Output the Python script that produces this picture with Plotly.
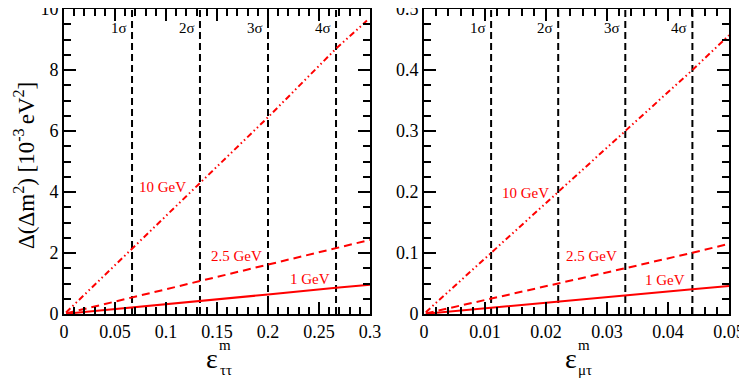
import plotly.graph_objects as go

# the page body keeps an 8px margin, so the figure is drawn 8px smaller
# and every position below is given in window pixels minus that offset
OFF = 8
W, H = 747 - OFF, 379 - OFF

# left panel: eps_tautau
x_tt = [0.002, 0.0667, 0.1333, 0.2, 0.2667, 0.297]
y_tt_10 = [0.05, 2.15, 4.3, 6.45, 8.7, 9.62]
x_tt_b = [0.002, 0.0667, 0.1333, 0.2, 0.2667, 0.3]
y_tt_25 = [0.02, 0.53, 1.08, 1.62, 2.17, 2.43]
y_tt_1 = [0.01, 0.21, 0.43, 0.64, 0.86, 0.96]
sig_tt = [0.0667, 0.1333, 0.2, 0.2667]

# right panel: eps_mutau
x_mt = [0.0003, 0.011, 0.022, 0.033, 0.044, 0.05]
y_mt_10 = [0.003, 0.1, 0.2, 0.3, 0.4, 0.457]
y_mt_25 = [0.001, 0.025, 0.05, 0.075, 0.1005, 0.115]
y_mt_1 = [0.0005, 0.01, 0.02, 0.03, 0.0405, 0.046]
sig_mt = [0.011, 0.022, 0.033, 0.044]

sig_labels = ["1σ", "2σ", "3σ", "4σ"]
energies = ["10 GeV", "2.5 GeV", "1 GeV"]

SERIF = "Liberation Serif"
RED = "#ff0000"
DDOT = "6px,3px,1.5px,3px,1.5px,3px"

def px(x):
    return (x - OFF) / W

def py(y):
    return 1 - (y - OFF) / H

fig = go.Figure()

panels = [
    ("x", "y", x_tt, [y_tt_10, y_tt_25, y_tt_1], x_tt_b, sig_tt, 10),
    ("x2", "y2", x_mt, [y_mt_10, y_mt_25, y_mt_1], x_mt, sig_mt, 0.5),
]
for xa, ya, xs, ys, xs_b, sigs, ytop in panels:
    for s in sigs:
        fig.add_trace(go.Scatter(x=[s, s], y=[0, ytop], mode="lines", xaxis=xa, yaxis=ya,
                                 line=dict(color="black", width=2, dash="7px,4px")))
    fig.add_trace(go.Scatter(x=xs, y=ys[0], mode="lines", xaxis=xa, yaxis=ya,
                             line=dict(color=RED, width=2, dash=DDOT)))
    fig.add_trace(go.Scatter(x=xs_b, y=ys[1], mode="lines", xaxis=xa, yaxis=ya,
                             line=dict(color=RED, width=2, dash="8px,5px")))
    fig.add_trace(go.Scatter(x=xs_b, y=ys[2], mode="lines", xaxis=xa, yaxis=ya,
                             line=dict(color=RED, width=2)))

def axis(**kw):
    d = dict(showline=True, linecolor="black", linewidth=2, mirror="ticks",
             ticks="inside", ticklen=12, tickwidth=1.5, tickcolor="black",
             showgrid=False, zeroline=False, ticklabeloverflow="allow", automargin=False,
             tickfont=dict(family=SERIF, size=18, color="black"))
    d.update(kw)
    return d

def minor(dt):
    return dict(dtick=dt, ticks="inside", ticklen=7, tickwidth=1.5, tickcolor="black")

ydom = [py(314), py(9)]
fig.update_layout(
    width=W, height=H,
    margin=dict(l=0, r=0, t=0, b=0),
    font=dict(family=SERIF, size=18, color="black"),
    paper_bgcolor="white", plot_bgcolor="white",
    showlegend=False,
    xaxis=axis(domain=[px(64), px(370)], range=[0, 0.3], dtick=0.05, anchor="y", minor=minor(0.01)),
    yaxis=axis(domain=ydom, range=[0, 10], dtick=2, anchor="x", minor=minor(0.5)),
    xaxis2=axis(domain=[px(424), px(729)], range=[0, 0.05], dtick=0.01, anchor="y2", minor=minor(0.002)),
    yaxis2=axis(domain=ydom, range=[0, 0.5], dtick=0.1, anchor="x2", minor=minor(0.025)),
)

ann = []
# sigma labels
for xa, ya, sigs, ytop in [("x", "y", sig_tt, 10), ("x2", "y2", sig_mt, 0.5)]:
    for s, lab in zip(sigs, sig_labels):
        ann.append(dict(x=s, y=ytop * 0.938, xref=xa, yref=ya, text=lab, showarrow=False,
                        xanchor="right", xshift=-3, font=dict(family=SERIF, size=15, color="black")))

# energy labels
lab_pos = [
    ("x", "y", [(0.097, 4.16), (0.1696, 1.9), (0.241, 1.15)]),
    ("x2", "y2", [(0.0167, 0.198), (0.0275, 0.095), (0.0395, 0.0557)]),
]
for xa, ya, pos in lab_pos:
    for (lx, ly), lab in zip(pos, energies):
        ann.append(dict(x=lx, y=ly, xref=xa, yref=ya, text=lab, showarrow=False,
                        xanchor="center", font=dict(family=SERIF, size=15, color=RED)))

# axis titles
for cx, sub in [(212, "ττ"), (571, "μτ")]:
    ann.append(dict(x=px(cx), y=py(358), xref="paper", yref="paper", text="ε", showarrow=False,
                    xanchor="center", yanchor="middle", font=dict(family=SERIF, size=28, color="black")))
    ann.append(dict(x=px(cx + 13), y=py(345), xref="paper", yref="paper", text="m", showarrow=False,
                    xanchor="center", yanchor="middle", font=dict(family=SERIF, size=15, color="black")))
    ann.append(dict(x=px(cx + 14), y=py(370), xref="paper", yref="paper", text=sub, showarrow=False,
                    xanchor="center", yanchor="middle", font=dict(family=SERIF, size=15, color="black")))

ann.append(dict(x=px(24), y=py(166), xref="paper", yref="paper", textangle=-90, showarrow=False,
                xanchor="center", yanchor="middle",
                text="Δ(Δm<sup>2</sup>) [10<sup>-3 </sup>eV<sup>2</sup>]",
                font=dict(family=SERIF, size=23, color="black")))

fig.update_layout(annotations=ann)

fig.write_html("out.html")
